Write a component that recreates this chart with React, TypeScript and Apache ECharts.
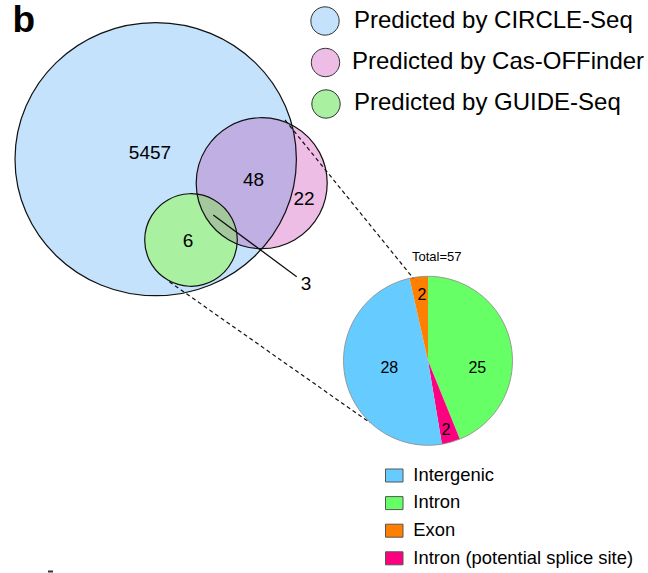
import { useEffect, useRef } from "react";
import * as echarts from "echarts";

// Venn diagram of off-target prediction sets
const vennSets = ["Predicted by CIRCLE-Seq", "Predicted by Cas-OFFinder", "Predicted by GUIDE-Seq"];
const vennRegions = ["CIRCLE-Seq only", "CIRCLE-Seq & Cas-OFFinder", "Cas-OFFinder only", "CIRCLE-Seq & GUIDE-Seq", "All three"];
const vennCounts = [5457, 48, 22, 6, 3];

// Genomic annotation of the validated sites (pie, clockwise from 12 o'clock)
const pieCategories = ["Intron", "Intron (potential splice site)", "Intergenic", "Exon"];
const pieValues = [25, 2, 28, 2];
const legendOrder = ["Intergenic", "Intron", "Exon", "Intron (potential splice site)"];

// ---- styling and layout ----
const FONT = "'Liberation Sans', Arial, Helvetica, sans-serif";
const setColors = ["#C4E2FB", "#EDBDE6", "#A9F1A1"];
const lensColors = { circlePink: "#C0AFE3", greenPink: "#A4C79E" };
const pieColors: Record<string, string> = {
  Intron: "#66FF66",
  "Intron (potential splice site)": "#FF0080",
  Intergenic: "#66CCFF",
  Exon: "#FF8000",
};

type Shape = { cx: number; cy: number; rx: number; ry: number };
const circleShape: Shape = { cx: 155.7, cy: 159.2, rx: 140.7, ry: 136.5 };
const casShape: Shape = { cx: 261.7, cy: 183.2, rx: 65.5, ry: 65.5 };
const guideShape: Shape = { cx: 191, cy: 240, rx: 46.3, ry: 46.3 };

const regionLabelPos: [number, number][] = [
  [150, 152],
  [253.5, 179],
  [304, 198.5],
  [188, 240],
  [306, 283],
];

const PIE_C: [number, number] = [428, 360.8];
const PIE_R = 84.5;
// [radius, angle shift in degrees] for each slice label
const pieLabelPlace: [number, number][] = [
  [49.8, 19],
  [70.8, 1],
  [39.3, 1],
  [66.1, 1],
];

function inside(s: Shape, x: number, y: number) {
  const dx = (x - s.cx) / s.rx;
  const dy = (y - s.cy) / s.ry;
  return dx * dx + dy * dy <= 1;
}

// Intersection of two convex ellipses, as a polygon outline
function lens(a: Shape, b: Shape): number[][] {
  const pts: number[][] = [];
  const N = 720;
  for (const [s, o] of [
    [a, b],
    [b, a],
  ] as [Shape, Shape][]) {
    for (let i = 0; i < N; i++) {
      const t = (i / N) * Math.PI * 2;
      const x = s.cx + s.rx * Math.cos(t);
      const y = s.cy + s.ry * Math.sin(t);
      if (inside(o, x, y)) pts.push([x, y]);
    }
  }
  let mx = 0;
  let my = 0;
  pts.forEach((p) => {
    mx += p[0];
    my += p[1];
  });
  mx /= pts.length;
  my /= pts.length;
  pts.sort((p, q) => Math.atan2(p[1] - my, p[0] - mx) - Math.atan2(q[1] - my, q[0] - mx));
  return pts;
}

export default function App() {
  const ref = useRef<HTMLDivElement>(null);

  useEffect(() => {
    if (!ref.current) return;
    const chart = echarts.init(ref.current, undefined, { renderer: "svg" });

    const total = pieValues.reduce((s, v) => s + v, 0);

    const txt = (x: number, y: number, text: string, size: number, align = "center", weight = "normal", z = 15) => ({
      type: "text",
      z,
      x,
      y,
      style: {
        text,
        font: `${weight} ${size}px ${FONT}`,
        fill: "#000",
        align,
        verticalAlign: "middle",
        textAlign: align,
        textVerticalAlign: "middle",
      },
    });

    // slice labels placed along each slice's angle
    const pieLabels: any[] = [];
    let acc = 0;
    pieValues.forEach((v, i) => {
      const mid = ((acc + v / 2) / total) * 360 + pieLabelPlace[i][1];
      acc += v;
      const a = (mid * Math.PI) / 180;
      const r = pieLabelPlace[i][0];
      pieLabels.push(txt(PIE_C[0] + r * Math.sin(a), PIE_C[1] - r * Math.cos(a), String(v), 16, "center", "normal", 20));
    });

    const outline = (s: Shape) =>
      s.rx === s.ry
        ? { type: "circle", z: 8, shape: { cx: s.cx, cy: s.cy, r: s.rx }, style: { fill: "none", stroke: "#111", lineWidth: 1.2 } }
        : { type: "ellipse", z: 8, shape: { cx: s.cx, cy: s.cy, rx: s.rx, ry: s.ry }, style: { fill: "none", stroke: "#111", lineWidth: 1.2 } };
    const fill = (s: Shape, color: string, z: number) =>
      s.rx === s.ry
        ? { type: "circle", z, shape: { cx: s.cx, cy: s.cy, r: s.rx }, style: { fill: color } }
        : { type: "ellipse", z, shape: { cx: s.cx, cy: s.cy, rx: s.rx, ry: s.ry }, style: { fill: color } };

    const vennLegendPos: [number, number, number][] = [
      [325, 21, 19.5],
      [325.5, 62.5, 60],
      [326, 104, 101.5],
    ];

    // legend of the pie, below it
    const pieLegend: any[] = [];
    legendOrder.forEach((name, i) => {
      pieLegend.push({
        type: "rect",
        z: 10,
        shape: { x: 385.5, y: 469 + i * 27.6, width: 17.5, height: 13 },
        style: { fill: pieColors[name], stroke: "#555", lineWidth: 1 },
      });
      pieLegend.push(txt(413.3, 474 + i * 27.9, name, 18.4, "left"));
    });

    const graphic: any[] = [
      txt(12.5, 19.5, "b", 37, "left", "bold"),
      fill(circleShape, setColors[0], 1),
      fill(casShape, setColors[1], 2),
      { type: "polygon", z: 3, shape: { points: lens(circleShape, casShape) }, style: { fill: lensColors.circlePink } },
      fill(guideShape, setColors[2], 4),
      { type: "polygon", z: 5, shape: { points: lens(guideShape, casShape) }, style: { fill: lensColors.greenPink } },
      outline(circleShape),
      outline(casShape),
      outline(guideShape),
      {
        type: "line",
        z: 9,
        shape: { x1: 213.3, y1: 215, x2: 296.7, y2: 276.7 },
        style: { stroke: "#111", lineWidth: 1.3 },
      },
      {
        type: "line",
        z: 9,
        shape: { x1: 285, y1: 120, x2: 413.3, y2: 278.3 },
        style: { stroke: "#111", lineWidth: 1.2, lineDash: [4, 3] },
      },
      {
        type: "line",
        z: 9,
        shape: { x1: 169.3, y1: 281.7, x2: 370, y2: 422.7 },
        style: { stroke: "#111", lineWidth: 1.2, lineDash: [4, 3] },
      },
      ...vennCounts.map((c, i) => txt(regionLabelPos[i][0], regionLabelPos[i][1], String(c), 19)),
      ...vennSets.map((name, i) => ({
        type: "circle",
        z: 10,
        shape: { cx: vennLegendPos[i][0], cy: vennLegendPos[i][1], r: 14.2 },
        style: { fill: setColors[i], stroke: "#333", lineWidth: 1 },
      })),
      ...vennSets.map((name, i) => txt(i === 1 ? 352 : 354, vennLegendPos[i][2], name, 24, "left")),
      txt(436.7, 256, `Total=${total}`, 13),
      {
        type: "circle",
        z: 12,
        shape: { cx: PIE_C[0], cy: PIE_C[1], r: PIE_R },
        style: { fill: "none", stroke: "#888", lineWidth: 0.8 },
      },
      ...pieLabels,
      ...pieLegend,
      { type: "rect", z: 10, shape: { x: 48, y: 570.5, width: 5, height: 2 }, style: { fill: "#333" } },
    ];

    chart.setOption({
      animation: false,
      series: [
        {
          type: "pie",
          center: PIE_C,
          radius: PIE_R,
          startAngle: 90,
          clockwise: true,
          silent: true,
          label: { show: false },
          labelLine: { show: false },
          emphasis: { disabled: true },
          itemStyle: { borderWidth: 0 },
          data: pieCategories.map((name, i) => ({
            name,
            value: pieValues[i],
            itemStyle: { color: pieColors[name] },
          })),
        },
      ],
      graphic,
    });

    return () => chart.dispose();
  }, []);

  return (
    <div
      ref={ref}
      style={{ position: "absolute", left: 0, top: 0, width: 648, height: 573, background: "#fff" }}
    />
  );
}
